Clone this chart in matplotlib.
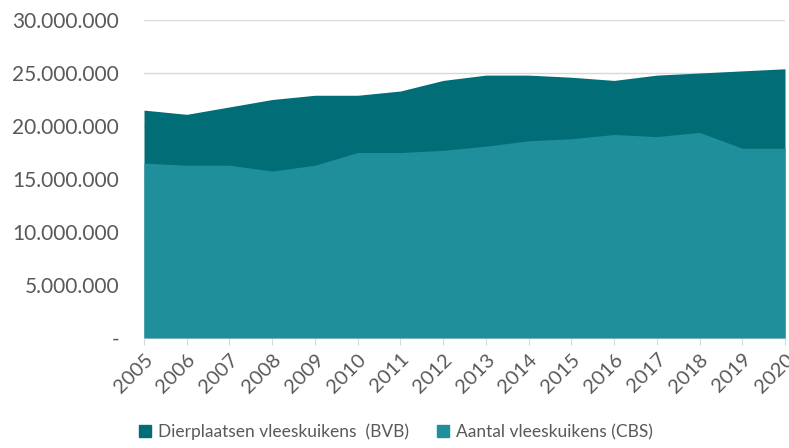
import matplotlib
matplotlib.use("Agg")
import matplotlib.pyplot as plt
from matplotlib.patches import Patch
from matplotlib.ticker import FuncFormatter, MultipleLocator

years = list(range(2005, 2021))
bvb = [21.5, 21.1, 21.8, 22.5, 22.9, 22.9, 23.3, 24.3, 24.8, 24.8, 24.6, 24.3, 24.8, 25.0, 25.2, 25.4]
cbs = [16.5, 16.3, 16.3, 15.75, 16.3, 17.5, 17.5, 17.7, 18.1, 18.6, 18.8, 19.2, 19.0, 19.4, 17.9, 17.9]
bvb = [v * 1e6 for v in bvb]
cbs = [v * 1e6 for v in cbs]
labels = ["Dierplaatsen vleeskuikens  (BVB)", "Aantal vleeskuikens (CBS)"]

dark = "#016e77"
light = "#1f8f9b"
txt = "#595959"

plt.rcParams['font.family'] = ['Lato', 'DejaVu Sans']

fig = plt.figure(figsize=(7.89, 4.48), dpi=100)
ax = fig.add_axes([144/789, 1-338/448, (785-144)/789, (338-20)/448])

ax.fill_between(years, 0, bvb, color=dark, linewidth=0, zorder=2)
ax.fill_between(years, 0, cbs, color=light, linewidth=0, zorder=3)

ax.set_xlim(2005, 2020)
ax.set_ylim(0, 30e6)
ax.yaxis.set_major_locator(MultipleLocator(5e6))

def fmt(v, p):
    if v == 0:
        return "-"
    return f"{int(v):,}".replace(",", ".")
ax.yaxis.set_major_formatter(FuncFormatter(fmt))
ax.set_xticks(years)
ax.set_xticklabels([str(y) for y in years], rotation=45, ha='right', rotation_mode='anchor')

ax.grid(axis='y', color='#d9d9d9', linewidth=1, zorder=1)
ax.set_axisbelow(True)
for s in ['top', 'right', 'left']:
    ax.spines[s].set_visible(False)
ax.spines['bottom'].set_color('#d9d9d9')
ax.tick_params(axis='y', length=0, labelsize=15, labelcolor=txt, pad=18)
ax.tick_params(axis='x', length=5, color='#d9d9d9', labelsize=14.5, labelcolor=txt, pad=4)

handles = [Patch(color=dark), Patch(color=light)]
fig.legend(handles, labels, loc='center', bbox_to_anchor=(396/789, 1-432/448), ncol=2,
           frameon=False, fontsize=12.5, labelcolor=txt, handlelength=0.7, handleheight=0.7,
           handletextpad=0.4, columnspacing=1.6)

fig.savefig("out.png", dpi=100)
